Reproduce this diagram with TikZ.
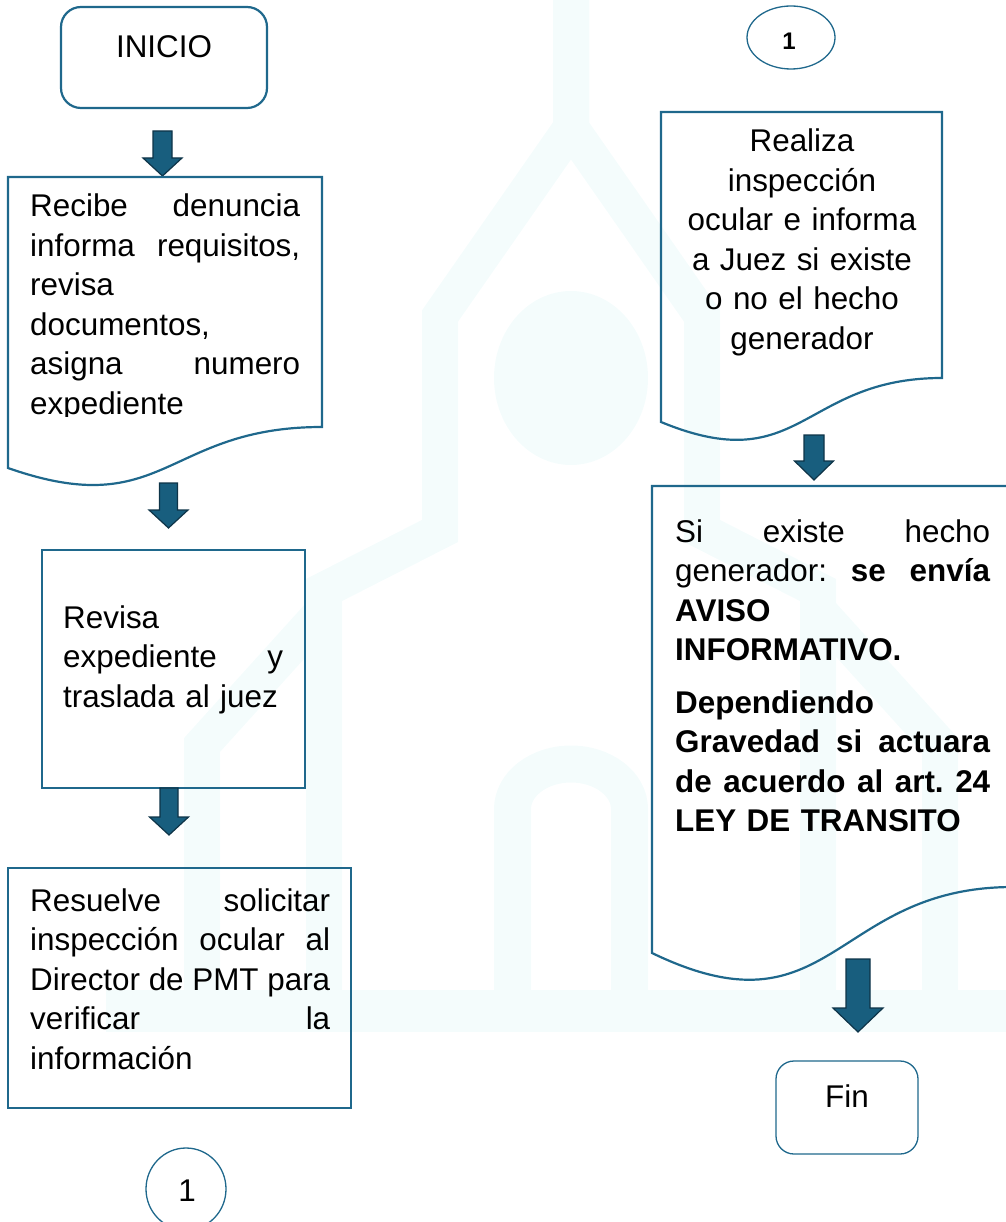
\documentclass[tikz,border=0pt]{standalone}
\usepackage{fontspec}
\setmainfont{Liberation Sans}
\usetikzlibrary{shapes.geometric}
\definecolor{boxc}{RGB}{31,104,140}
\definecolor{arrf}{RGB}{24,94,126}
\definecolor{arrd}{RGB}{14,52,72}
\definecolor{wmcol}{RGB}{244,252,252}
\newcommand\fs{\fontsize{31.4}{39.5}\selectfont}
\newcommand\jl[2]{\makebox[#1][l]{#2}}
\newcommand\dnarrow[6]{%
  \draw[blk] ({#1-#4},#2) -- ({#1+#4},#2) -- ({#1+#4},{#3-#6}) -- ({#1+#5},{#3-#6})
    -- (#1,#3) -- ({#1-#5},{#3-#6}) -- ({#1-#4},{#3-#6}) -- cycle;}
\begin{document}
\begin{tikzpicture}[x=1pt,y=-1pt,
  boxline/.style={draw=boxc, line width=2.2pt, inner sep=0pt},
  thinline/.style={draw=boxc, line width=1.3pt, inner sep=0pt},
  txt/.style={inner sep=0pt, font=\fs},
  blk/.style={fill=arrf, draw=arrd, line width=1.2pt, line join=miter},
  wm/.style={draw=wmcol, line join=miter}]
\useasboundingbox (0,0) rectangle (1005,1222);
% watermark
\fill[wmcol] (571,378) ellipse [x radius=77, y radius=87];
\draw[wm, line width=36pt] (571,-10) -- (571,128) -- (440,316) -- (440,531) -- (324,590) -- (324,1011);
\draw[wm, line width=36pt] (571,-10) -- (571,128) -- (702,316) -- (702,531) -- (818,590) -- (818,1011);
\draw[wm, line width=36pt] (324,610) -- (202,745) -- (202,1011);
\draw[wm, line width=36pt] (818,610) -- (940,745) -- (940,1011);
\draw[wm, line width=42pt] (106,1011) -- (1010,1011);
\draw[wm, line width=37pt] (512.5,1011) -- (512.5,809) arc[start angle=180, end angle=360, x radius=58.5, y radius=45] -- (629.5,1011);
% left column
\node[boxline, rounded corners=20pt, minimum width=206pt, minimum height=101pt] (inicio) at (164,57.5) {};
\node[txt, anchor=base] (tinicio) at (164,58) {INICIO};
\dnarrow{162.5}{131}{176}{9.5}{19.5}{18}
\draw[boxline] (8,177) -- (322,177) -- (322,427) .. controls (165,427) and (165,523) .. (8,468) -- cycle;
\begin{scope}
\clip (0,0) rectangle (1005,416);
\node[txt, anchor=base west, text width=270pt, align=left] (trecibe) at (30,217)
 {\jl{270pt}{Recibe\hfill denuncia}\\ \jl{270pt}{informa\hfill requisitos,}\\ revisa\\ documentos,\\ \jl{270pt}{asigna\hfill numero}\\ expediente};
\end{scope}
\dnarrow{168.5}{483}{528}{9}{19.5}{18}
\node[boxline, minimum width=263pt, minimum height=238pt] (revisa) at (173.5,669) {};
\node[txt, anchor=base west, text width=220pt, align=left] (trevisa) at (63,628)
 {Revisa\\ \jl{220pt}{expediente\hfill y}\\ traslada al juez};
\dnarrow{169}{788}{835}{9}{19.5}{18}
\node[boxline, minimum width=343pt, minimum height=240pt] (resuelve) at (179.5,988) {};
\node[txt, anchor=base west, text width=300pt, align=left] (tresuelve) at (30,911)
 {\jl{300pt}{Resuelve\hfill solicitar}\\ \jl{300pt}{inspección\hfill ocular\hfill al}\\ \jl{300pt}{Director\hfill de\hfill PMT\hfill para}\\ \jl{300pt}{verificar\hfill la}\\ información};
\node[thinline, ellipse, minimum width=80pt, minimum height=82pt] (c1b) at (186,1189) {};
\node[txt, anchor=base] (t1b) at (187,1201) {1};
% right column
\node[thinline, ellipse, minimum width=88pt, minimum height=63pt] (c1a) at (791,37.5) {};
\node[inner sep=0pt, font=\bfseries\fontsize{24}{28}\selectfont, anchor=base] (t1a) at (789,50) {1};
\draw[boxline] (661,112) -- (942,112) -- (942,378) .. controls (801.5,378) and (801.5,480) .. (661,422) -- cycle;
\node[txt, anchor=base, text width=300pt, align=center] (trealiza) at (802,152)
 {Realiza\\ inspección\\ ocular e informa\\ a Juez si existe\\ o no el hecho\\ generador};
\dnarrow{814}{435}{480}{10}{19.5}{19}
\draw[boxline] (652,486) -- (1013,486) -- (1013,887) .. controls (832.5,887) and (832.5,1040) .. (652,953) -- cycle;
\node[txt, anchor=base west, text width=315pt, align=left] (tsi) at (675,542)
 {\jl{315pt}{Si\hfill existe\hfill hecho}\\ \jl{315pt}{generador:\hfill\textbf{se}\hfill\textbf{envía}}\\ \textbf{AVISO}\\ \textbf{INFORMATIVO.}\\[13pt]
  \textbf{Dependiendo}\\ \jl{315pt}{\bfseries Gravedad\hfill si\hfill actuara}\\ \jl{315pt}{\bfseries de\hfill acuerdo\hfill al\hfill art.\hfill 24}\\ \textbf{LEY DE TRANSITO}};
\dnarrow{858}{959}{1032}{12}{25}{24}
\node[thinline, rounded corners=18pt, minimum width=142pt, minimum height=93pt] (fin) at (847,1107.5) {};
\node[txt, anchor=base] (tfin) at (847,1107) {Fin};
\end{tikzpicture}
\end{document}
